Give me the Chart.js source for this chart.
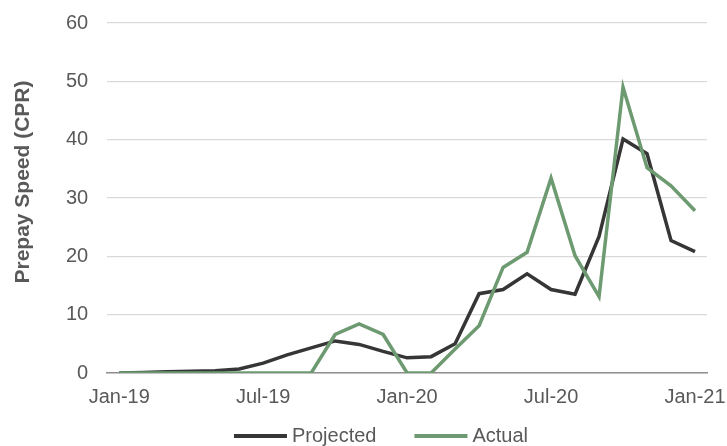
<!DOCTYPE html>
<html>
<head>
<meta charset="utf-8">
<title>Prepay Speed (CPR)</title>
<script src="https://cdn.jsdelivr.net/npm/chart.js@4/dist/chart.umd.min.js"></script>
<style>
  html, body { margin: 0; padding: 0; background: #ffffff; }
  canvas { display: block; }
</style>
</head>
<body>
<canvas id="cpr" width="727" height="446"></canvas>
<script>
// Monthly categories, Jan-19 through Jan-21
const months = [
  'Jan-19','Feb-19','Mar-19','Apr-19','May-19','Jun-19',
  'Jul-19','Aug-19','Sep-19','Oct-19','Nov-19','Dec-19',
  'Jan-20','Feb-20','Mar-20','Apr-20','May-20','Jun-20',
  'Jul-20','Aug-20','Sep-20','Oct-20','Nov-20','Dec-20',
  'Jan-21'
];

// Only these months get an axis label
const tickMonths = ['Jan-19', 'Jul-19', 'Jan-20', 'Jul-20', 'Jan-21'];

// Prepay speeds (CPR)
const projected = [
  0, 0.1, 0.2, 0.3, 0.4, 0.7,
  1.7, 3.1, 4.3, 5.5, 4.9, 3.7,
  2.6, 2.8, 5.0, 13.6, 14.3, 17.0,
  14.3, 13.5, 23.4, 40.1, 37.6, 22.7,
  20.8
];
const actual = [
  0, 0, 0, 0, 0, 0,
  0, 0, 0, 6.6, 8.4, 6.6,
  0, 0, 4.1, 8.1, 18.1, 20.7,
  33.4, 20.1, 13.1, 49.0, 35.2, 32.1,
  27.8
];

const yTitle = 'Prepay Speed (CPR)';

const FONT = "'Liberation Sans', Arial, sans-serif";
const TEXT = '#595959';

// Rotated axis title in the left margin, sitting a little above the plot's middle
const axisTitle = {
  id: 'axisTitle',
  afterDraw(chart) {
    const ctx = chart.ctx;
    const area = chart.chartArea;
    ctx.save();
    ctx.font = 'bold 21px ' + FONT;
    ctx.fillStyle = TEXT;
    ctx.textAlign = 'center';
    ctx.textBaseline = 'middle';
    ctx.translate(23, (area.top + area.bottom) / 2 - 16);
    ctx.rotate(-Math.PI / 2);
    ctx.fillText(yTitle, 0, 0);
    ctx.restore();
  }
};

// Line-sample legend along the bottom edge
const lineLegend = {
  id: 'lineLegend',
  afterDraw(chart) {
    const ctx = chart.ctx;
    const items = chart.data.datasets
      .slice()
      .sort((a, b) => a.legendIndex - b.legendIndex);
    const sample = 53, gap = 5, spacing = 38;
    ctx.save();
    ctx.font = '20px ' + FONT;
    ctx.textBaseline = 'middle';
    ctx.textAlign = 'left';
    const widths = items.map(d => ctx.measureText(d.label).width);
    let total = 0;
    widths.forEach((w, i) => { total += sample + gap + w + (i ? spacing : 0); });
    let x = 381 - total / 2;
    const y = 436;
    items.forEach((d, i) => {
      ctx.strokeStyle = d.borderColor;
      ctx.lineWidth = 4;
      ctx.lineCap = 'butt';
      ctx.beginPath();
      ctx.moveTo(x, y);
      ctx.lineTo(x + sample, y);
      ctx.stroke();
      x += sample + gap;
      ctx.fillStyle = TEXT;
      ctx.fillText(d.label, x, y);
      x += widths[i] + spacing;
    });
    ctx.restore();
  }
};

// Let tick labels overhang the plot area instead of shrinking it
function noLabelPadding(scale) {
  scale.paddingLeft = 0;
  scale.paddingRight = 0;
  scale.paddingTop = 0;
  scale.paddingBottom = 0;
}

new Chart(document.getElementById('cpr'), {
  type: 'line',
  data: {
    labels: months,
    datasets: [
      {
        label: 'Projected',
        legendIndex: 0,
        data: projected,
        borderColor: '#363636',
        borderWidth: 3.5,
        pointRadius: 0,
        tension: 0,
        order: 1
      },
      {
        label: 'Actual',
        legendIndex: 1,
        data: actual,
        borderColor: '#6d9a70',
        borderWidth: 3.5,
        pointRadius: 0,
        tension: 0,
        order: 0
      }
    ]
  },
  options: {
    responsive: false,
    animation: false,
    layout: { padding: { left: 47, right: 20, top: 23, bottom: 25 } },
    plugins: {
      legend: { display: false },
      tooltip: { enabled: false }
    },
    scales: {
      x: {
        type: 'category',
        offset: true,
        grid: { display: false, drawTicks: false },
        border: { display: true, color: '#8f8f8f', width: 1.5 },
        afterFit: noLabelPadding,
        ticks: {
          autoSkip: false,
          maxRotation: 0,
          padding: 12,
          color: TEXT,
          font: { family: FONT, size: 20 },
          callback(value) {
            const m = this.getLabelForValue(value);
            return tickMonths.includes(m) ? m : '';
          }
        }
      },
      y: {
        min: 0,
        max: 60,
        grid: { color: '#d9d9d9', lineWidth: 1.2, drawTicks: false },
        border: { display: false },
        afterFit: noLabelPadding,
        ticks: {
          stepSize: 10,
          padding: 19,
          color: TEXT,
          font: { family: FONT, size: 20 }
        }
      }
    }
  },
  plugins: [axisTitle, lineLegend]
});
</script>
</body>
</html>
